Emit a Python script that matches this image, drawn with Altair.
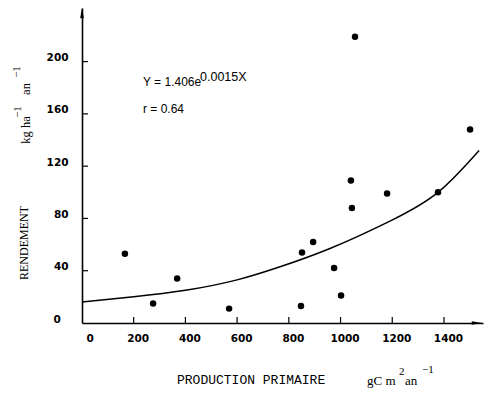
import altair as alt
import pandas as pd

# ---- data ----
prod = [166, 275, 368, 569, 847, 851, 894, 975, 1002, 1044, 1056, 1040, 1180, 1377, 1501]
rend = [53, 15, 34, 11, 13, 54, 62, 42, 21, 88, 219, 109, 99, 100, 148]

curve_x = [0, 200, 400, 600, 766, 959, 1191, 1377, 1536]
curve_y = [16, 20, 25, 33, 43, 57, 78, 100, 132]

x_ticks = [0, 200, 400, 600, 800, 1000, 1200, 1400]
y_ticks = [0, 40, 80, 120, 160, 200]
x_inner_ticks = [200, 400, 600, 800, 1000, 1200, 1400]
y_inner_ticks = [40, 80, 120, 160, 200]

W, H = 401, 315
XMAX, YMAX = 1551, 241

pts = pd.DataFrame({"x": prod, "y": rend})
crv = pd.DataFrame({"x": curve_x, "y": curve_y})
xt = pd.DataFrame({"x": x_inner_ticks})
yt = pd.DataFrame({"y": y_inner_ticks})
one = pd.DataFrame({"d": [0]})

TICKFONT = "DejaVu Sans"

xscale = alt.Scale(domain=[0, XMAX], nice=False, zero=False)
yscale = alt.Scale(domain=[0, YMAX], nice=False, zero=False)

xaxis = alt.Axis(values=x_ticks, ticks=False, grid=False, title=None, format="d",
                 domainColor="black", domainWidth=1.6,
                 labelFont=TICKFONT, labelFontSize=10.5, labelFontWeight="bold",
                 labelColor="black", labelPadding=10, labelOffset=4,
                 labelBaseline="top")
yaxis = alt.Axis(values=y_ticks, ticks=False, grid=False, title=None, format="d",
                 domainColor="black", domainWidth=1.6,
                 labelFont=TICKFONT, labelFontSize=10.5, labelFontWeight="bold",
                 labelColor="black", labelOffset=-4,
                 labelAlign={"condition": {"test": "datum.value == 0", "value": "left"},
                             "value": "right"},
                 labelPadding={"condition": {"test": "datum.value == 0", "value": 29},
                               "value": 14})

points = alt.Chart(pts).mark_circle(size=42, color="black", opacity=1).encode(
    x=alt.X("x:Q", scale=xscale, axis=xaxis),
    y=alt.Y("y:Q", scale=yscale, axis=yaxis),
)

curve = alt.Chart(crv).mark_line(color="black", strokeWidth=1.5, interpolate="natural").encode(
    x=alt.X("x:Q", scale=xscale),
    y=alt.Y("y:Q", scale=yscale),
)

xtick_layer = alt.Chart(xt).mark_rule(color="black", strokeWidth=1.2).encode(
    x=alt.X("x:Q", scale=xscale), y=alt.value(H), y2=alt.value(H - 6)
)
ytick_layer = alt.Chart(yt).mark_rule(color="black", strokeWidth=1.2).encode(
    y=alt.Y("y:Q", scale=yscale), x=alt.value(0), x2=alt.value(6)
)

arrow_x = alt.Chart(one).mark_point(shape="M1,0L-1,-0.35L-1,0.35Z", size=110,
                                    filled=True, color="black", opacity=1).encode(
    x=alt.value(W - 6), y=alt.value(H)
)
arrow_y = alt.Chart(one).mark_point(shape="M0,-1L-0.35,1L0.35,1Z", size=110,
                                    filled=True, color="black", opacity=1).encode(
    x=alt.value(0), y=alt.value(5)
)


def label(text, x, y, size, font, angle=0, align="left", weight="normal"):
    return alt.Chart(one).mark_text(
        text=text, font=font, fontSize=size, angle=angle, align=align,
        baseline="middle", color="black", fontWeight=weight
    ).encode(x=alt.value(x), y=alt.value(y))


SERIF = "Liberation Serif"
MONO = "Liberation Mono"
SANS = "Liberation Sans"

texts = [
    # equation
    label("Y = 1.406e", 61, 74, 12, SANS),
    label("0.0015X", 118, 69, 12.5, SANS),
    label("r = 0.64", 61, 101, 12, SANS),
    # y title
    label("RENDEMENT", -58, 235, 12, SERIF, angle=270, align="center"),
    label("kg ha", -56, 122, 12.5, SERIF, angle=270, align="center"),
    label("\u22121", -64, 104, 11, SERIF, angle=270, align="center"),
    label("an", -56, 81, 12.5, SERIF, angle=270, align="center"),
    label("\u22121", -65, 64, 11, SERIF, angle=270, align="center"),
    # x title
    label("PRODUCTION PRIMAIRE", 95, 372, 13, MONO),
    label("gC m", 285, 373, 13, SERIF),
    label("2", 317, 364, 11, SERIF),
    label("an", 323, 373, 13, SERIF),
    label("\u22121", 340, 362, 11, SERIF),
]

chart = alt.layer(curve, points, xtick_layer, ytick_layer, arrow_x, arrow_y, *texts).properties(
    width=W, height=H,
    autosize=alt.AutoSizeParams(type="none"),
    padding={"left": 74, "top": 0, "right": 5, "bottom": 66},
    background="white",
).configure_view(stroke=None)

chart.save("out.html", embed_options={"renderer": "svg", "actions": False})
